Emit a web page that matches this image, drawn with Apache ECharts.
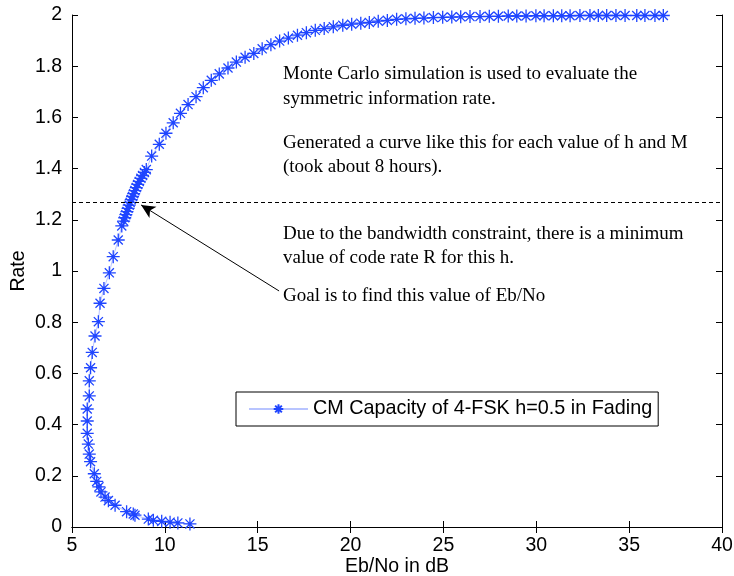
<!DOCTYPE html>
<html>
<head>
<meta charset="utf-8">
<script src="https://cdn.jsdelivr.net/npm/echarts@6/dist/echarts.min.js"></script>
<style>html,body{margin:0;padding:0;background:#fff}#c{width:734px;height:576px}</style>
</head>
<body>
<div id="c"></div>
<script>
// Eb/No (dB) values of the curve, ordered by increasing rate
const ebno = [11.35,10.70,10.28,9.83,9.38,9.11,8.39,8.30,7.94,7.32,6.96,6.78,6.56,6.45,6.33,6.20,6.00,5.93,5.88,5.82,5.82,5.82,5.93,5.93,6.00,6.09,6.24,6.42,6.51,6.72,7.01,7.22,7.49,7.68,
  7.78,7.84,7.90,7.96,8.02,8.08,8.13,8.19,8.26,8.32,8.39,8.46,8.54,8.62,8.71,8.80,8.90,9.00,
  9.29,9.70,10.06,10.45,10.84,11.25,11.68,12.07,12.50,12.93,13.40,13.85,14.32,14.79,15.24,15.71,16.18,16.65,17.14,17.62,18.10,18.58,19.07,19.58,20.06,20.55,21.01,21.49,21.98,22.48,22.98,23.47,23.95,24.46,24.96,25.45,25.93,26.43,26.97,27.47,27.96,28.49,28.95,29.45,29.98,30.42,30.92,31.37,31.82,32.35,32.89,33.34,33.79,34.29,34.78,35.41,35.85,36.39,36.84];
// Rate values
const rate = [0.012,0.016,0.019,0.022,0.026,0.031,0.046,0.051,0.060,0.085,0.103,0.117,0.137,0.157,0.178,0.208,0.255,0.285,0.324,0.366,0.414,0.461,0.512,0.571,0.622,0.682,0.746,0.802,0.874,0.932,0.993,1.056,1.121,1.176,
  1.195,1.208,1.220,1.232,1.245,1.257,1.268,1.279,1.291,1.302,1.314,1.326,1.338,1.350,1.362,1.373,1.385,1.396,
  1.449,1.495,1.538,1.579,1.616,1.650,1.681,1.716,1.745,1.770,1.793,1.816,1.835,1.850,1.868,1.884,1.898,1.910,1.921,1.931,1.940,1.947,1.954,1.960,1.964,1.968,1.971,1.976,1.979,1.983,1.985,1.987,1.988,1.990,1.991,1.992,1.993,1.994,1.994,1.995,1.995,1.996,1.996,1.996,1.997,1.997,1.997,1.997,1.997,1.998,1.998,1.998,1.998,1.998,1.998,1.998,1.998,1.998,1.998];
const seriesName = 'CM Capacity of 4-FSK h=0.5 in Fading';
const xTicks = [5,10,15,20,25,30,35,40];
const yTicks = [0,0.2,0.4,0.6,0.8,1,1.2,1.4,1.6,1.8,2];
const minRate = 1.27;
const arrowFrom = [16.15, 0.922];
const arrowTo = [8.72, 1.258];
const notes = [
  ['Monte Carlo simulation is used to evaluate the', 283, 76],
  ['symmetric information rate.', 283, 101],
  ['Generated a curve like this for each value of h and M', 283, 145],
  ['(took about 8 hours).', 283, 169],
  ['Due to the bandwidth constraint, there is a minimum', 283, 236],
  ['value of code rate R for this h.', 283, 260],
  ['Goal is to find this value of Eb/No', 283, 298]
];

const data = ebno.map((x,i)=>[x, rate[i]]);
const star = 'path://M0,-1L0,1M-1,0L1,0M-0.7,-0.7L0.7,0.7M-0.7,0.7L0.7,-0.7';
const blue = '#1f45ff';
const axisFont = {fontFamily:'Liberation Sans', fontSize:19.5, color:'#000'};

const chart = echarts.init(document.getElementById('c'), null, {renderer:'canvas'});
const baseX = {type:'value', min:xTicks[0], max:xTicks[xTicks.length-1], interval:5,
  axisLine:{show:true, lineStyle:{color:'#000', width:1}},
  axisTick:{show:true, inside:true, length:6, lineStyle:{color:'#000'}},
  splitLine:{show:false}};
const baseY = {type:'value', min:yTicks[0], max:yTicks[yTicks.length-1], interval:0.2,
  axisLine:{show:true, lineStyle:{color:'#000', width:1}},
  axisTick:{show:true, inside:true, length:6, lineStyle:{color:'#000'}},
  splitLine:{show:false}};

chart.setOption({
  animation:false,
  grid:{left:72, right:12, top:15, bottom:49, containLabel:false, outerBoundsMode:'none'},
  xAxis:[
    Object.assign({}, baseX, {position:'bottom', name:'Eb/No in dB', nameLocation:'middle', nameGap:30, nameMoveOverlap:false,
      nameTextStyle:axisFont, axisLabel:Object.assign({margin:9}, axisFont)}),
    Object.assign({}, baseX, {position:'top', axisLabel:{show:false}})
  ],
  yAxis:[
    Object.assign({}, baseY, {position:'left', name:'Rate', nameLocation:'middle', nameGap:43, nameMoveOverlap:false,
      nameTextStyle:axisFont, axisLabel:Object.assign({margin:10}, axisFont)}),
    Object.assign({}, baseY, {position:'right', axisLabel:{show:false}})
  ],
  legend:{
    show:true, left:236, top:392, orient:'horizontal',
    data:[{name:seriesName}],
    itemWidth:59, itemHeight:12, itemGap:8,
    padding:[7,6,7,12],
    borderColor:'#000', borderWidth:1, backgroundColor:'#fff',
    textStyle:{fontFamily:'Liberation Sans', fontSize:19.8, color:'#000'}
  },
  graphic: notes.map(n=>({type:'text', left:n[1], top:n[2]-11, silent:true,
    style:{text:n[0], font:'19px "Liberation Serif"', fill:'#000'}})),
  series:[{
    name:seriesName, type:'line', data:data,
    symbol:star, symbolSize:13,
    itemStyle:{color:blue, borderColor:blue, borderWidth:1.3},
    lineStyle:{color:'#b8c4ff', width:1},
    markLine:{
      silent:true, animation:false,
      label:{show:false},
      data:[
        [{coord:[xTicks[0], minRate], symbol:'none'}, {coord:[xTicks[xTicks.length-1], minRate], symbol:'none', lineStyle:{type:[4,3], color:'#000', width:1}}],
        [{coord:arrowFrom, symbol:'none'}, {coord:arrowTo, symbol:'arrow', symbolSize:[10,14], lineStyle:{type:'solid', color:'#000', width:1}}]
      ],
      lineStyle:{color:'#000', width:1}
    }
  }]
});
</script>
</body>
</html>
